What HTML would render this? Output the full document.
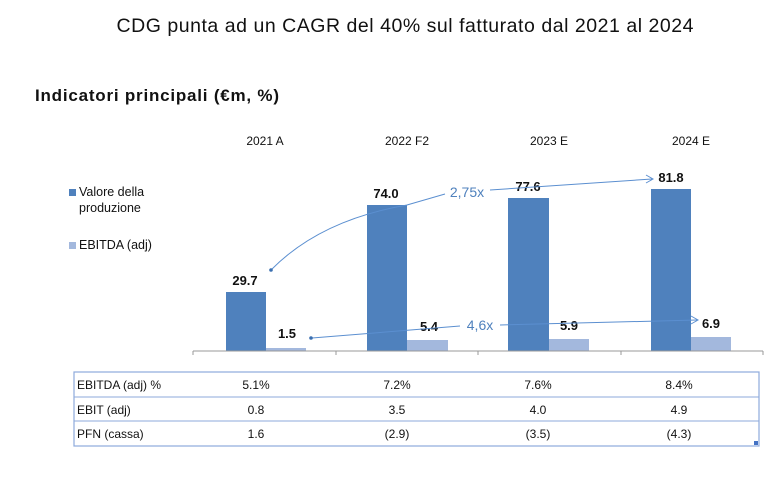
<!DOCTYPE html>
<html><head><meta charset="utf-8"><style>
body{margin:0;background:#fff;}
svg{display:block;font-family:"Liberation Sans",sans-serif;}
</style></head><body>
<svg width="781" height="480" viewBox="0 0 781 480" xmlns="http://www.w3.org/2000/svg">
<text x="405" y="32" text-anchor="middle" font-size="19.5" fill="#111" textLength="577">CDG punta ad un CAGR del 40% sul fatturato dal 2021 al 2024</text>
<text x="35" y="101" font-size="17" font-weight="bold" fill="#111" textLength="244">Indicatori principali (€m, %)</text>
<g font-size="12" fill="#111" text-anchor="middle">
<text x="265" y="145">2021 A</text><text x="407" y="145">2022 F2</text><text x="549" y="145">2023 E</text><text x="691" y="145">2024 E</text>
</g>
<rect x="69" y="189" width="7" height="7" fill="#4f81bd"/>
<text x="79" y="196" font-size="12.5" fill="#111">Valore della</text>
<text x="79" y="212" font-size="12.5" fill="#111">produzione</text>
<rect x="69" y="242" width="7" height="7" fill="#a3b8dd"/>
<text x="79" y="249" font-size="12.5" fill="#111">EBITDA (adj)</text>
<g fill="#4f81bd">
<rect x="226" y="292" width="40" height="59"/><rect x="367" y="205" width="40" height="146"/>
<rect x="508" y="198" width="41" height="153"/><rect x="651" y="189" width="40" height="162"/>
</g>
<g fill="#a3b8dd">
<rect x="266" y="348" width="40" height="3"/><rect x="407" y="340" width="41" height="11"/>
<rect x="549" y="339" width="40" height="12"/><rect x="691" y="337" width="40" height="14"/>
</g>
<line x1="193" y1="351" x2="763" y2="351" stroke="#999"/>
<g stroke="#999"><line x1="193" y1="351" x2="193" y2="355"/><line x1="336" y1="351" x2="336" y2="355"/><line x1="478" y1="351" x2="478" y2="355"/><line x1="621" y1="351" x2="621" y2="355"/><line x1="763" y1="351" x2="763" y2="355"/></g>
<g font-size="13" font-weight="bold" fill="#111" text-anchor="middle">
<text x="245" y="285">29.7</text><text x="386" y="198">74.0</text><text x="528" y="191">77.6</text><text x="671" y="182">81.8</text>
<text x="287" y="338">1.5</text><text x="429" y="331">5.4</text><text x="569" y="330">5.9</text><text x="711" y="328">6.9</text>
</g>
<g stroke="#5b8fd0" stroke-width="1" fill="none">
<path d="M271,270 Q320,220 407,205 L445,194"/>
<path d="M490,190 L652,179"/><path d="M646,175 L653,179 L646,183"/>
<path d="M312,338 L460,326"/><path d="M500,325 L697,320"/><path d="M691,316 L698,320 L691,324"/>
</g>
<circle cx="271" cy="270" r="1.8" fill="#3a6fb0"/><circle cx="311" cy="338" r="1.8" fill="#3a6fb0"/>
<text x="467" y="197" font-size="14" fill="#4f81bd" text-anchor="middle">2,75x</text>
<text x="480" y="330" font-size="14" fill="#4f81bd" text-anchor="middle">4,6x</text>
<rect x="74" y="372" width="685" height="74" fill="none" stroke="#8eaadb" stroke-width="1.2"/>
<line x1="74" y1="397" x2="759" y2="397" stroke="#8eaadb"/><line x1="74" y1="421" x2="759" y2="421" stroke="#8eaadb"/>
<rect x="754" y="441" width="4" height="4" fill="#4472c4"/>
<g font-size="12" fill="#111">
<text x="77" y="389">EBITDA (adj) %</text><text x="77" y="414">EBIT (adj)</text><text x="77" y="438">PFN (cassa)</text>
</g>
<g font-size="12" fill="#111" text-anchor="middle">
<text x="256" y="389">5.1%</text><text x="397" y="389">7.2%</text><text x="538" y="389">7.6%</text><text x="679" y="389">8.4%</text>
<text x="256" y="414">0.8</text><text x="397" y="414">3.5</text><text x="538" y="414">4.0</text><text x="679" y="414">4.9</text>
<text x="256" y="438">1.6</text><text x="397" y="438">(2.9)</text><text x="538" y="438">(3.5)</text><text x="679" y="438">(4.3)</text>
</g>
</svg>
</body></html>
